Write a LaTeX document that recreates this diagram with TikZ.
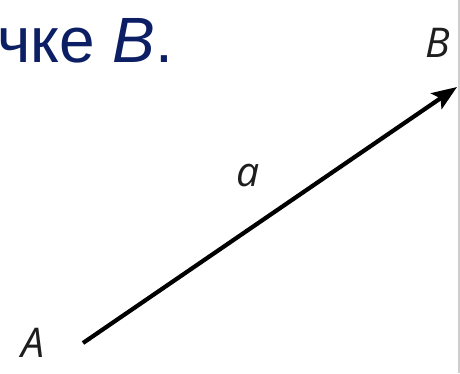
\documentclass[tikz,border=0pt]{standalone}
\usepackage{fontspec}
\setmainfont{Liberation Sans}
\newfontfamily\labfont{Open Sans}
\usetikzlibrary{arrows.meta}
\definecolor{headblue}{RGB}{12,30,100}
\definecolor{labgrey}{RGB}{30,30,30}
\definecolor{edgegrey}{RGB}{205,205,205}
\begin{document}
\begin{tikzpicture}[x=1pt,y=-1pt,
  lab/.style={inner sep=0pt,text=labgrey,font=\labfont\itshape\fontsize{41}{44}\selectfont},
  vec/.style={line width=4.2pt,-{Stealth[length=25pt,width=19pt,inset=5pt]}}]
\useasboundingbox (0,0) rectangle (460,373);
\fill[white] (0,0) rectangle (460,373);
\fill[edgegrey] (457.5,0) rectangle (460,373);
\node[anchor=base west,inner sep=0pt,text=headblue,font=\fontsize{64}{70}\selectfont] (head) at (-3,62) {чке \textit{B}.};
\coordinate (pA) at (83,343);
\coordinate (pB) at (457,87);
\draw[vec] (pA) -- (pB);
\node[lab,anchor=base] (lA) at (33,357) {A};
\node[lab,anchor=base] (lB) at (438,57) {B};
\node[lab,anchor=base] (la) at (248,186) {a};
\end{tikzpicture}
\end{document}
